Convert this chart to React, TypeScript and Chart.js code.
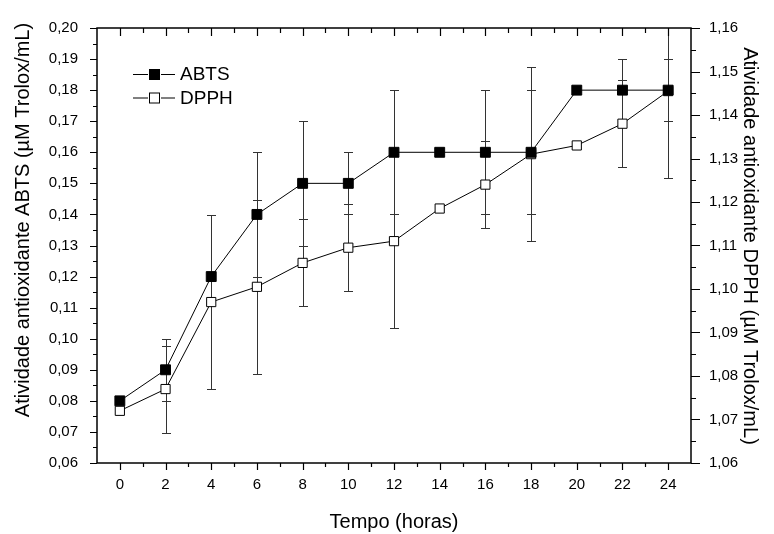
import React, { useEffect, useRef } from 'react';
import { Chart, registerables } from 'chart.js';

Chart.register(...registerables);

// ---- data ----
const HOURS = [0, 2, 4, 6, 8, 10, 12, 14, 16, 18, 20, 22, 24];
const ABTS = [0.08, 0.09, 0.12, 0.14, 0.15, 0.15, 0.16, 0.16, 0.16, 0.16, 0.18, 0.18, 0.18];
const ABTS_ERR = [0, 0.01, 0, 0.02, 0.02, 0.01, 0.02, 0, 0.02, 0.02, 0, 0.01, 0.01];
const DPPH = [1.072, 1.077, 1.097, 1.1005, 1.106, 1.1095, 1.111, 1.1185, 1.124, 1.131, 1.133, 1.138, 1.1455];
const DPPH_ERR = [0, 0.01, 0.02, 0.02, 0.01, 0.01, 0.02, 0, 0.01, 0.02, 0, 0.01, 0.02];

const X_TICKS = [0, 2, 4, 6, 8, 10, 12, 14, 16, 18, 20, 22, 24];
const LEFT_TICKS = [0.06, 0.07, 0.08, 0.09, 0.1, 0.11, 0.12, 0.13, 0.14, 0.15, 0.16, 0.17, 0.18, 0.19, 0.2];
const RIGHT_TICKS = [1.06, 1.07, 1.08, 1.09, 1.1, 1.11, 1.12, 1.13, 1.14, 1.15, 1.16];

const X_TITLE = 'Tempo (horas)';
const LEFT_TITLE = 'Atividade antioxidante ABTS (µM Trolox/mL)';
const RIGHT_TITLE = 'Atividade antioxidante DPPH (µM Trolox/mL)';
const SERIES_NAMES = ['ABTS', 'DPPH'];

const FONT = 'Arial, "Liberation Sans", sans-serif';

const fmt = (v: number) => v.toFixed(2).replace('.', ',');

const mids = (arr: number[]) => {
  const out: number[] = [];
  for (let i = 0; i < arr.length - 1; i++) out.push((arr[i] + arr[i + 1]) / 2);
  return out;
};

const errorBarsPlugin = {
  id: 'errorBars',
  beforeDatasetsDraw(chart: any) {
    const { ctx, chartArea } = chart;
    const errs = [ABTS_ERR, DPPH_ERR];
    ctx.save();
    ctx.beginPath();
    ctx.rect(chartArea.left, chartArea.top, chartArea.right - chartArea.left, chartArea.bottom - chartArea.top);
    ctx.clip();
    ctx.strokeStyle = '#333';
    ctx.lineWidth = 1;
    chart.data.datasets.forEach((ds: any, i: number) => {
      const yScale = chart.scales[ds.yAxisID];
      const xScale = chart.scales.x;
      ds.data.forEach((p: any, j: number) => {
        const e = errs[i][j];
        if (!e) return;
        const px = Math.round(xScale.getPixelForValue(p.x)) + 0.5;
        const top = Math.round(yScale.getPixelForValue(p.y + e)) + 0.5;
        const bot = Math.round(yScale.getPixelForValue(p.y - e)) + 0.5;
        ctx.beginPath();
        ctx.moveTo(px, top);
        ctx.lineTo(px, bot);
        ctx.moveTo(px - 4.5, top);
        ctx.lineTo(px + 4.5, top);
        ctx.moveTo(px - 4.5, bot);
        ctx.lineTo(px + 4.5, bot);
        ctx.stroke();
      });
    });
    ctx.restore();
  },
};

const framePlugin = {
  id: 'frame',
  afterDraw(chart: any) {
    const { ctx, chartArea } = chart;
    const { left, right, top, bottom } = chartArea;
    const xs = chart.scales.x;
    const yl = chart.scales.y;
    const yr = chart.scales.y1;
    ctx.save();
    ctx.strokeStyle = '#000';
    ctx.lineWidth = 1.5;
    ctx.strokeRect(left, top, right - left, bottom - top);
    ctx.lineWidth = 1.2;
    ctx.beginPath();
    // bottom (outward) and top (inward) x ticks
    X_TICKS.forEach((v) => {
      const p = Math.round(xs.getPixelForValue(v)) + 0.5;
      ctx.moveTo(p, bottom); ctx.lineTo(p, bottom + 7);
      ctx.moveTo(p, top); ctx.lineTo(p, top + 8);
    });
    mids(X_TICKS).forEach((v) => {
      const p = Math.round(xs.getPixelForValue(v)) + 0.5;
      ctx.moveTo(p, bottom); ctx.lineTo(p, bottom + 4);
      ctx.moveTo(p, top); ctx.lineTo(p, top + 5);
    });
    // left ticks
    LEFT_TICKS.forEach((v) => {
      const p = Math.round(yl.getPixelForValue(v)) + 0.5;
      ctx.moveTo(left, p); ctx.lineTo(left - 7, p);
    });
    mids(LEFT_TICKS).forEach((v) => {
      const p = Math.round(yl.getPixelForValue(v)) + 0.5;
      ctx.moveTo(left, p); ctx.lineTo(left - 4, p);
    });
    // right ticks
    RIGHT_TICKS.forEach((v) => {
      const p = Math.round(yr.getPixelForValue(v)) + 0.5;
      ctx.moveTo(right, p); ctx.lineTo(right + 9, p);
    });
    mids(RIGHT_TICKS).forEach((v) => {
      const p = Math.round(yr.getPixelForValue(v)) + 0.5;
      ctx.moveTo(right, p); ctx.lineTo(right + 5, p);
    });
    ctx.stroke();

    // axis titles
    ctx.fillStyle = '#000';
    ctx.font = `20px ${FONT}`;
    ctx.textAlign = 'center';
    ctx.textBaseline = 'alphabetic';
    ctx.fillText(X_TITLE, (left + right) / 2, 528);

    ctx.save();
    ctx.translate(29, 220);
    ctx.rotate(-Math.PI / 2);
    ctx.fillText(LEFT_TITLE, 0, 0);
    ctx.restore();

    ctx.save();
    ctx.translate(744, 246);
    ctx.rotate(Math.PI / 2);
    ctx.fillText(RIGHT_TITLE, 0, 0);
    ctx.restore();

    // legend
    const rows = [
      { name: SERIES_NAMES[0], y: 74, fill: '#000' },
      { name: SERIES_NAMES[1], y: 97.5, fill: '#fff' },
    ];
    rows.forEach((r) => {
      ctx.strokeStyle = '#000';
      ctx.lineWidth = 1;
      ctx.beginPath();
      ctx.moveTo(133, r.y + 0.5); ctx.lineTo(148, r.y + 0.5);
      ctx.moveTo(161, r.y + 0.5); ctx.lineTo(175, r.y + 0.5);
      ctx.stroke();
      ctx.fillStyle = r.fill;
      ctx.fillRect(149.5, r.y - 4.5, 10, 10);
      ctx.strokeRect(149.5, r.y - 4.5, 10, 10);
      ctx.fillStyle = '#000';
      ctx.font = `19px ${FONT}`;
      ctx.textAlign = 'left';
      ctx.textBaseline = 'middle';
      ctx.fillText(r.name, 180, r.y + 1);
    });
    ctx.restore();
  },
};

export default function App() {
  const ref = useRef<HTMLCanvasElement | null>(null);

  useEffect(() => {
    document.body.style.margin = '0';
    const canvas = ref.current;
    if (!canvas) return;
    const chart = new Chart(canvas, {
      type: 'line',
      data: {
        datasets: [
          {
            label: SERIES_NAMES[0],
            data: HOURS.map((h, i) => ({ x: h, y: ABTS[i] })),
            yAxisID: 'y',
            borderColor: '#000',
            borderWidth: 1,
            pointStyle: 'rect',
            pointRadius: 7,
            pointBackgroundColor: '#000',
            pointBorderColor: '#000',
            pointBorderWidth: 1,
            fill: false,
            tension: 0,
          },
          {
            label: SERIES_NAMES[1],
            data: HOURS.map((h, i) => ({ x: h, y: DPPH[i] })),
            yAxisID: 'y1',
            borderColor: '#000',
            borderWidth: 1,
            pointStyle: 'rect',
            pointRadius: 6.5,
            pointBackgroundColor: '#fff',
            pointBorderColor: '#000',
            pointBorderWidth: 1,
            fill: false,
            tension: 0,
          },
        ],
      },
      options: {
        animation: false,
        responsive: false,
        devicePixelRatio: 1,
        clip: false as any,
        layout: { padding: { top: 25, left: 0, right: 0, bottom: 0 } },
        plugins: {
          legend: { display: false },
          tooltip: { enabled: false },
        },
        scales: {
          x: {
            type: 'linear',
            min: -1,
            max: 25,
            grid: { display: false, drawTicks: false, tickLength: 0 },
            border: { display: false },
            afterBuildTicks: (s: any) => { s.ticks = X_TICKS.map((v) => ({ value: v })); },
            afterFit: (s: any) => { s.height = 71; },
            ticks: {
              color: '#000',
              font: { family: FONT, size: 15 },
              padding: 13,
              maxRotation: 0,
              autoSkip: false,
              callback: (v: any) => String(v),
            },
          },
          y: {
            type: 'linear',
            position: 'left',
            min: 0.06,
            max: 0.2,
            grid: { display: false, drawTicks: false, tickLength: 0 },
            border: { display: false },
            afterBuildTicks: (s: any) => { s.ticks = LEFT_TICKS.map((v) => ({ value: v })); },
            afterFit: (s: any) => { s.width = 97; },
            ticks: {
              color: '#000',
              font: { family: FONT, size: 15 },
              padding: 19,
              autoSkip: false,
              callback: (v: any) => fmt(Number(v)),
            },
          },
          y1: {
            type: 'linear',
            position: 'right',
            min: 1.06,
            max: 1.16,
            grid: { display: false, drawTicks: false, tickLength: 0 },
            border: { display: false },
            afterBuildTicks: (s: any) => { s.ticks = RIGHT_TICKS.map((v) => ({ value: v })); },
            afterFit: (s: any) => { s.width = 83; },
            ticks: {
              color: '#000',
              font: { family: FONT, size: 15 },
              padding: 18,
              autoSkip: false,
              callback: (v: any) => fmt(Number(v)),
            },
          },
        },
      },
      plugins: [errorBarsPlugin, framePlugin],
    });
    return () => chart.destroy();
  }, []);

  return (
    <div style={{ position: 'absolute', left: 0, top: 0, width: 774, height: 534, background: '#fff' }}>
      <canvas ref={ref} width={774} height={534} style={{ width: 774, height: 534 }} />
    </div>
  );
}
